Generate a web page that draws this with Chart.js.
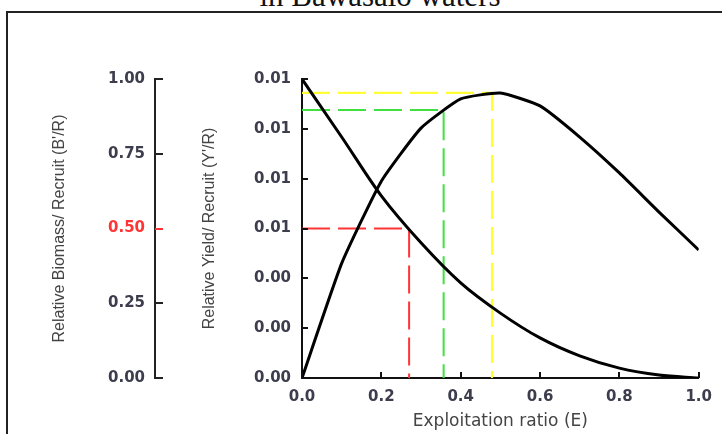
<!DOCTYPE html>
<html>
<head>
<meta charset="utf-8">
<script src="https://cdn.jsdelivr.net/npm/chart.js@4/dist/chart.umd.min.js"></script>
<style>
  html, body { margin: 0; padding: 0; background: #fff; overflow: hidden; }
  #wrap { position: relative; width: 722px; height: 434px; overflow: hidden; }
  #frame { position: absolute; left: 6px; top: 11px; width: 800px; height: 500px; border: 2px solid #222; }
  #title { position: absolute; left: 380px; top: -20px; transform: translateX(-50%); white-space: nowrap;
           font: 31px "Liberation Serif", serif; line-height: 31px; color: #111; }
  #myChart { position: absolute; left: 0; top: 0; }
</style>
</head>
<body>
<div id="wrap">
  <div id="frame"></div>
  <div id="title">in Bawasalo waters</div>
  <canvas id="myChart" width="722" height="434"></canvas>
</div>
<script>
// exploitation ratio E and the two relative per-recruit curves
const exploitation = [0, 0.1, 0.2, 0.3, 0.4, 0.5, 0.6, 0.7, 0.8, 0.9, 1.0];
const biomassRecruit = [1.0, 0.806, 0.609, 0.452, 0.318, 0.217, 0.134, 0.074, 0.033, 0.010, 0.0];
const yieldRecruit = [0, 0.0046, 0.0079, 0.01003, 0.0112, 0.01144, 0.01092, 0.00967, 0.00823, 0.00666, 0.00514];

// reference points: E50 (B'/R = 0.5), E10 and Emax
const e50 = [0.27, 0.5];
const e10 = [0.357, 0.01076];
const eMax = [0.479, 0.01144];

const red = '#ff3535', green = '#3fe03f', yellow = '#ffff33';
const tickColor = '#3d3d4d';

function pts(xs, ys) { return xs.map((x, i) => ({x: x, y: ys[i]})); }
function guide(p) { return [{x: 0, y: p[1]}, {x: p[0], y: p[1]}, {x: p[0], y: 0}]; }

const tickMarks = {
  id: 'tickMarks',
  afterDraw(chart) {
    const ctx = chart.ctx;
    const sx = chart.scales.x, sy = chart.scales.y, sy2 = chart.scales.y2;
    ctx.save();
    ctx.lineWidth = 2;
    sy2.ticks.forEach(t => {
      const p = Math.round(sy2.getPixelForValue(t.value));
      ctx.strokeStyle = t.value === 0.5 ? red : '#222';
      ctx.beginPath(); ctx.moveTo(sy2.right, p); ctx.lineTo(sy2.right + 8, p); ctx.stroke();
    });
    ctx.strokeStyle = '#111';
    sy.ticks.forEach(t => {
      const p = Math.round(sy.getPixelForValue(t.value));
      ctx.beginPath(); ctx.moveTo(sy.right, p); ctx.lineTo(sy.right + 6, p); ctx.stroke();
    });
    sx.ticks.forEach(t => {
      const p = Math.round(sx.getPixelForValue(t.value));
      ctx.beginPath(); ctx.moveTo(p, sx.top); ctx.lineTo(p, sx.top - 6); ctx.stroke();
    });
    ctx.restore();
  }
};

const ctx = document.getElementById('myChart').getContext('2d');
const myChart = new Chart(ctx, {
  type: 'line',
  data: {
    datasets: [
      { label: "B'/R", data: pts(exploitation, biomassRecruit), yAxisID: 'y2',
        borderColor: '#000', borderWidth: 3, pointRadius: 0, cubicInterpolationMode: 'monotone' },
      { label: "Y'/R", data: pts(exploitation, yieldRecruit), yAxisID: 'y',
        borderColor: '#000', borderWidth: 3, pointRadius: 0, tension: 0.15 },
      { label: 'E50', data: guide(e50), yAxisID: 'y2',
        borderColor: red, borderWidth: 2, borderDash: [28, 8], pointRadius: 0 },
      { label: 'E10', data: guide(e10), yAxisID: 'y',
        borderColor: green, borderWidth: 2, borderDash: [28, 8], pointRadius: 0 },
      { label: 'Emax', data: guide(eMax), yAxisID: 'y',
        borderColor: yellow, borderWidth: 2.2, borderDash: [28, 8], pointRadius: 0 }
    ]
  },
  options: {
    responsive: false,
    animation: false,
    layout: { padding: { left: 40, top: 79, right: 19, bottom: 0 } },
    plugins: { legend: { display: false }, tooltip: { enabled: false } },
    scales: {
      x: {
        type: 'linear', position: 'bottom', min: 0, max: 1,
        grid: { drawOnChartArea: false, drawTicks: false },
        border: { color: '#111', width: 2 },
        ticks: { stepSize: 0.2, padding: 10, color: tickColor, maxRotation: 0,
                 font: { family: 'DejaVu Sans', size: 15, weight: 'bold' },
                 callback: v => v.toFixed(1) },
        title: { display: true, text: 'Exploitation ratio (E)', color: '#444',
                 font: { family: 'DejaVu Sans', size: 17 }, padding: { top: 0, bottom: 2 } },
        afterFit: s => { s.height = 56; }
      },
      y: {
        type: 'linear', position: 'left', weight: 0, min: 0, max: 0.012,
        grid: { drawOnChartArea: false, drawTicks: false },
        border: { color: '#111', width: 2 },
        ticks: { stepSize: 0.002, padding: 11, color: tickColor,
                 font: { family: 'DejaVu Sans', size: 15, weight: 'bold' },
                 callback: v => v.toFixed(2) },
        title: { display: true, text: "Relative Yield/ Recruit (Y'/R)", color: '#444',
                 font: { family: 'Liberation Sans', size: 16 }, padding: { top: 45, bottom: 0 } },
        afterFit: s => { s.width = 147; }
      },
      y2: {
        type: 'linear', position: 'left', weight: 1, min: 0, max: 1,
        grid: { drawOnChartArea: false, drawTicks: false },
        border: { color: '#222', width: 2 },
        ticks: { stepSize: 0.25, padding: 10,
                 color: c => c.tick && c.tick.value === 0.5 ? red : tickColor,
                 font: { family: 'DejaVu Sans', size: 15, weight: 'bold' },
                 callback: v => v.toFixed(2) },
        title: { display: true, text: "Relative Biomass/ Recruit (B'/R)", color: '#444',
                 font: { family: 'Liberation Sans', size: 16 }, padding: { top: 10, bottom: 0 } },
        afterFit: s => { s.width = 115; }
      }
    }
  },
  plugins: [tickMarks]
});
</script>
</body>
</html>
